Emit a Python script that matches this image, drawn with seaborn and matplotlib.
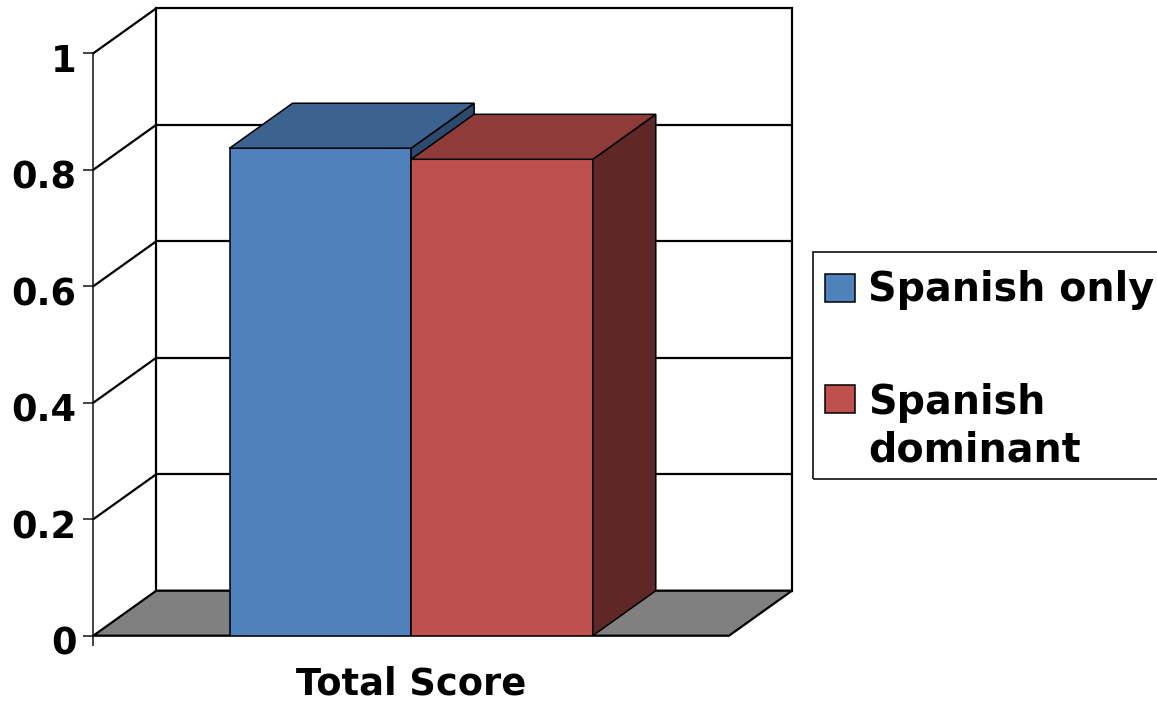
import numpy as np
import pandas as pd
import matplotlib
matplotlib.use("Agg")
import matplotlib.pyplot as plt
import matplotlib.transforms as mtransforms
from matplotlib.patches import Polygon, Rectangle
from matplotlib.legend_handler import HandlerPatch
import seaborn as sns

# ---------------- data ----------------
categories = ["Total Score"]
groups = ["Spanish only", "Spanish dominant"]
legend_labels = ["Spanish only", "Spanish\ndominant"]
values = [0.837, 0.818]
y_ticks = [0, 0.2, 0.4, 0.6, 0.8, 1]
y_tick_labels = ["0", "0.2", "0.4", "0.6", "0.8", "1"]

# ---------------- style ----------------
front_colors = ["#4F81BD", "#C0504D"]
top_colors = ["#3C6290", "#8F3B39"]
side_colors = ["#2C4A6D", "#5F2827"]
floor_color = "#808080"

W, H, DPI = 1157, 702, 100
DEPTH_PX = (63, 45)  # 3-D depth offset in pixels

df = pd.DataFrame({"category": categories * len(groups),
                   "group": groups,
                   "value": values})

sns.set_theme(style="white")
plt.rcParams["font.family"] = ["DejaVu Sans"]
plt.rcParams["font.weight"] = "bold"
plt.rcParams["text.color"] = "black"

fig = plt.figure(figsize=(W / DPI, H / DPI), dpi=DPI)
ax_l, ax_r, ax_t, ax_b = 93.3, 729.0, 53.3, 635.7
ax = fig.add_axes([ax_l / W, 1 - ax_b / H, (ax_r - ax_l) / W, (ax_b - ax_t) / H])

sns.barplot(data=df, x="category", y="value", hue="group", hue_order=groups,
            palette=front_colors, width=0.8, saturation=1,
            edgecolor="black", linewidth=1.1, legend=False, ax=ax)

ax.set_xlim(-0.7, 0.7)
ax.set_ylim(0, 1)
x0, x1 = ax.get_xlim()
dx = DEPTH_PX[0] * (x1 - x0) / (ax_r - ax_l)
dy = DEPTH_PX[1] * 1.0 / (ax_b - ax_t)
bx0, bx1 = x0 + dx, x1 + dx

lw = 1.6
# back wall
ax.add_patch(Rectangle((bx0, dy), bx1 - bx0, 1.0, facecolor="white",
                       edgecolor="black", lw=lw, clip_on=False, zorder=0.3))
for t in y_ticks[1:-1]:
    ax.plot([bx0, bx1], [t + dy, t + dy], color="black", lw=lw,
            clip_on=False, zorder=0.35, solid_capstyle="butt")
for t in y_ticks[1:]:
    ax.plot([x0, bx0], [t, t + dy], color="black", lw=lw,
            clip_on=False, zorder=0.35)
# floor
ax.add_patch(Polygon([(x0, 0), (x1, 0), (bx1, dy), (bx0, dy)],
                     closed=True, facecolor=floor_color, edgecolor="black",
                     lw=lw, clip_on=False, zorder=0.4))

# 3-D bar faces
for i, cont in enumerate(ax.containers):
    for bar in cont:
        bx, bw, bh = bar.get_x(), bar.get_width(), bar.get_height()
        bar.set_zorder(1 + 0.2 * i)
        top = Polygon([(bx, bh), (bx + bw, bh), (bx + bw + dx, bh + dy), (bx + dx, bh + dy)],
                      closed=True, facecolor=top_colors[i], edgecolor="black",
                      lw=1.1, clip_on=False, zorder=1.1 + 0.2 * i)
        side = Polygon([(bx + bw, 0), (bx + bw + dx, dy), (bx + bw + dx, bh + dy), (bx + bw, bh)],
                       closed=True, facecolor=side_colors[i], edgecolor="black",
                       lw=1.1, clip_on=False, zorder=1.1 + 0.2 * i)
        ax.add_patch(side)
        ax.add_patch(top)

# axes / ticks
for s in ["top", "right", "bottom"]:
    ax.spines[s].set_visible(False)
ax.spines["left"].set_color("#111111")
ax.spines["left"].set_linewidth(1.1)
ax.set_yticks(y_ticks, y_tick_labels)
ax.tick_params(axis="y", left=True, length=7.2, width=1.1, color="#111111",
               pad=5, labelsize=26.5, direction="out")
ax.tick_params(axis="x", which="major", bottom=True, length=0, pad=21.6, labelsize=26.5)
ax.set_xticks([x0], minor=True)
ax.tick_params(axis="x", which="minor", bottom=True, length=7.2, width=1.1,
               color="#111111", direction="out")
ax.set_xlabel("")
ax.set_ylabel("")
for lbl in ax.get_yticklabels() + ax.get_xticklabels():
    lbl.set_fontweight("bold")
    lbl.set_color("black")
shift = mtransforms.ScaledTranslation(0, -4.6 / DPI, fig.dpi_scale_trans)
for lbl in ax.get_yticklabels():
    lbl.set_transform(lbl.get_transform() + shift)

# legend
def shifted_handler(shift_pt):
    def f(legend, orig_handle, xdescent, ydescent, width, height, fontsize):
        return Rectangle((-xdescent, -ydescent + shift_pt), width, height)
    return HandlerPatch(patch_func=f)

handles = [cont[0] for cont in ax.containers]
leg = fig.legend(handles, legend_labels,
                 handler_map={handles[1]: shifted_handler(21.0)},
                 loc="upper left", bbox_to_anchor=(825 / W, 1 - 270.5 / H),
                 bbox_transform=fig.transFigure, frameon=False,
                 borderpad=0, borderaxespad=0, handlelength=0.76,
                 handleheight=0.71, handletextpad=0.33, labelspacing=1.83,
                 prop=dict(family="DejaVu Sans", weight="bold", size=28.5))
for t in leg.get_texts():
    t.set_linespacing(1.25)
    t.set_color("black")
fig.add_artist(Rectangle((812.7 / W, 1 - 479 / H), (1170 - 812.7) / W, (479 - 251.7) / H,
                         transform=fig.transFigure, fill=False,
                         edgecolor="#222222", lw=1.3))

fig.savefig("out.png", dpi=DPI)
